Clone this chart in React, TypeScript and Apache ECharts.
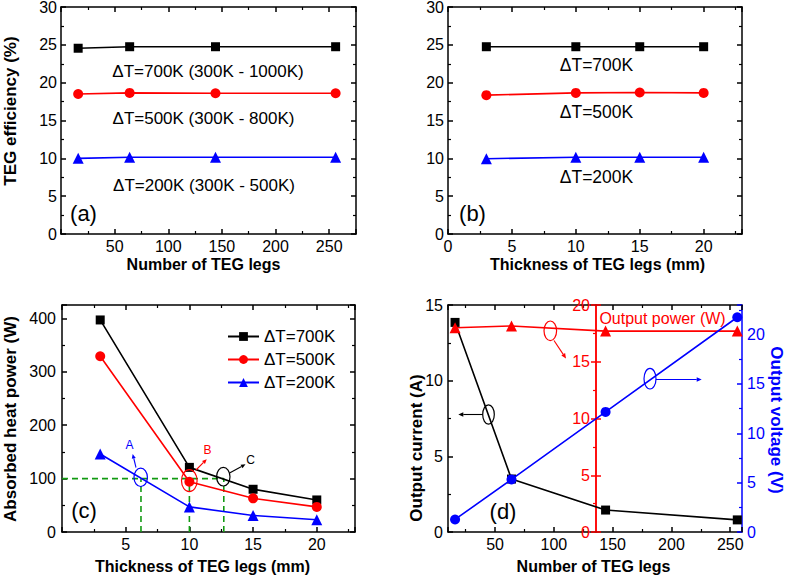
import React, { useEffect, useRef } from 'react';
import * as echarts from 'echarts';

const FONT = "'Liberation Sans', Arial, Helvetica, sans-serif";

// ---------- (a) efficiency vs number of legs ----------
const legsA = [16, 64, 144, 256];
const effA700 = [24.55, 24.75, 24.75, 24.75];
const effA500 = [18.5, 18.65, 18.6, 18.6];
const effA200 = [10.0, 10.15, 10.15, 10.15];

// ---------- (b) efficiency vs thickness ----------
const thickB = [3, 10, 15, 20];
const effB700 = [24.75, 24.75, 24.75, 24.75];
const effB500 = [18.35, 18.65, 18.7, 18.65];
const effB200 = [9.95, 10.15, 10.15, 10.15];

// ---------- (c) absorbed heat power vs thickness ----------
const thickC = [3, 10, 15, 20];
const heatC700 = [397, 121, 80, 60];
const heatC500 = [329, 94, 63, 47];
const heatC200 = [146, 47, 31, 23];
const guideLevel = 100;
const guideXs = [6.2, 10, 12.7];

// ---------- (d) outputs vs number of legs ----------
const legsD = [16, 64, 144, 256];
const currentD = [13.85, 3.5, 1.45, 0.8];
const powerD = [18.0, 18.15, 17.7, 17.7];
const voltageD = [1.27, 5.33, 12.17, 21.76];

const legendNames = ['ΔT=700K', 'ΔT=500K', 'ΔT=200K'];

const zip = (xs: number[], ys: number[]) => xs.map((x, i) => [x, ys[i]]);

function xAxisCfg(gridIndex: number, min: number, max: number, o: any = {}) {
  const mirror = !!o.mirror;
  return {
    type: 'value',
    gridIndex,
    min,
    max,
    position: mirror ? 'top' : 'bottom',
    interval: o.interval,
    splitNumber: o.splitNumber ?? 5,
    axisLine: { show: true, onZero: false, lineStyle: { color: '#000', width: 1.5 } },
    axisTick: { show: true, inside: true, length: 5, lineStyle: { color: '#000', width: 1.5 } },
    minorTick: { show: true, splitNumber: 2, length: 3, lineStyle: { color: '#000', width: 1.2 } },
    splitLine: { show: false },
    minorSplitLine: { show: false },
    axisLabel: {
      show: !mirror,
      margin: 4,
      fontSize: 16,
      fontFamily: FONT,
      color: '#000',
      showMinLabel: o.showMin ?? true,
      showMaxLabel: o.showMax ?? true,
    },
  };
}

function yAxisCfg(gridIndex: number, min: number, max: number, o: any = {}) {
  const color = o.color ?? '#000';
  return {
    type: 'value',
    gridIndex,
    min,
    max,
    position: o.position ?? 'left',
    offset: o.offset ?? 0,
    interval: o.interval,
    axisLine: { show: true, onZero: false, lineStyle: { color, width: 1.5 } },
    axisTick: { show: true, inside: o.inside ?? true, length: 5, lineStyle: { color, width: 1.5 } },
    minorTick: { show: o.minor ?? true, splitNumber: 2, length: 3, lineStyle: { color, width: 1.2 } },
    splitLine: { show: false },
    minorSplitLine: { show: false },
    axisLabel: {
      show: !!o.labels,
      margin: o.margin ?? 4,
      fontSize: 16,
      fontFamily: FONT,
      color,
      showMinLabel: true,
      showMaxLabel: o.showMax ?? true,
    },
  };
}

function lineSeries(name: string, xi: number, yi: number, data: number[][], color: string, symbol: string, size: number, z = 3) {
  return {
    type: 'line',
    name,
    xAxisIndex: xi,
    yAxisIndex: yi,
    data,
    symbol,
    symbolSize: size,
    showSymbol: true,
    z,
    silent: true,
    lineStyle: { color, width: 1.6 },
    itemStyle: { color, borderWidth: 0 },
    emphasis: { disabled: true },
  };
}

function guideSeries(xi: number, yi: number, data: number[][]) {
  return {
    type: 'line',
    xAxisIndex: xi,
    yAxisIndex: yi,
    data,
    symbol: 'none',
    z: 1,
    silent: true,
    lineStyle: { color: '#129a12', width: 1.6, type: [6, 4] },
    emphasis: { disabled: true },
  };
}

function txt(text: string, x: number, y: number, size: number, color = '#000', bold = false, rot = 0) {
  return {
    type: 'text',
    x,
    y,
    rotation: rot,
    silent: true,
    z: 100,
    style: {
      text,
      fill: color,
      fontSize: size,
      fontFamily: FONT,
      fontWeight: bold ? 'bold' : 'normal',
      align: 'center',
      verticalAlign: 'middle',
    },
  };
}

function ell(cx: number, cy: number, rx: number, ry: number, color: string) {
  return {
    type: 'ellipse',
    silent: true,
    z: 100,
    shape: { cx, cy, rx, ry },
    style: { fill: 'none', stroke: color, lineWidth: 1.2 },
  };
}

function arrow(x1: number, y1: number, x2: number, y2: number, color: string, head = 5) {
  const a = Math.atan2(y2 - y1, x2 - x1);
  const bx = x2 - head * Math.cos(a);
  const by = y2 - head * Math.sin(a);
  const w = head * 0.45;
  const px = -Math.sin(a) * w;
  const py = Math.cos(a) * w;
  return [
    {
      type: 'line',
      silent: true,
      z: 100,
      shape: { x1, y1, x2: bx, y2: by },
      style: { stroke: color, lineWidth: 1.1 },
    },
    {
      type: 'polygon',
      silent: true,
      z: 100,
      shape: { points: [[x2, y2], [bx + px, by + py], [bx - px, by - py]] },
      style: { fill: color },
    },
  ];
}

export default function App() {
  const ref = useRef<HTMLDivElement>(null);

  useEffect(() => {
    if (!ref.current) return;
    const chart = echarts.init(ref.current, undefined, { renderer: 'svg' });

    const grid = [
      { left: 61, top: 7, width: 295, height: 227 },
      { left: 448, top: 7, width: 294, height: 227 },
      { left: 62, top: 305, width: 293, height: 227 },
      { left: 448, top: 305, width: 294, height: 227 },
    ].map((g) => ({ ...g, containLabel: false, outerBoundsMode: 'none' }));

    const xAxis = [
      xAxisCfg(0, 0, 275, { interval: 50, showMin: false, showMax: false }),
      xAxisCfg(0, 0, 275, { interval: 50, mirror: true }),
      xAxisCfg(1, 0, 23, { interval: 5, showMax: false }),
      xAxisCfg(1, 0, 23, { interval: 5, mirror: true }),
      xAxisCfg(2, 0, 23, { interval: 5, showMin: false, showMax: false }),
      xAxisCfg(2, 0, 23, { interval: 5, mirror: true }),
      xAxisCfg(3, 10, 260, { splitNumber: 5, showMin: false, showMax: false }),
      xAxisCfg(3, 10, 260, { splitNumber: 5, mirror: true }),
    ];

    const yAxis = [
      yAxisCfg(0, 0, 30, { interval: 5, labels: true }),
      yAxisCfg(0, 0, 30, { interval: 5, position: 'right' }),
      yAxisCfg(1, 0, 30, { interval: 5, labels: true }),
      yAxisCfg(1, 0, 30, { interval: 5, position: 'right' }),
      yAxisCfg(2, 0, 425, { interval: 100, labels: true, showMax: false, margin: 6 }),
      yAxisCfg(2, 0, 425, { interval: 100, position: 'right' }),
      yAxisCfg(3, 0, 15, { interval: 5, labels: true, margin: 5 }),
      yAxisCfg(3, 0, 20, { interval: 5, labels: true, color: '#ff0000', offset: -148, inside: false, margin: 6 }),
      yAxisCfg(3, 0, 20, { interval: 5, color: '#ff0000', offset: -148, inside: true, minor: false }),
      yAxisCfg(3, 0, 23, { interval: 5, labels: true, color: '#0000ff', position: 'right', showMax: false, margin: 5 }),
    ];

    const series: any[] = [
      // (a)
      lineSeries('a700', 0, 0, zip(legsA, effA700), '#000', 'rect', 9),
      lineSeries('a500', 0, 0, zip(legsA, effA500), '#ff0000', 'circle', 10),
      lineSeries('a200', 0, 0, zip(legsA, effA200), '#0000ff', 'triangle', 11),
      // (b)
      lineSeries('b700', 2, 2, zip(thickB, effB700), '#000', 'rect', 9),
      lineSeries('b500', 2, 2, zip(thickB, effB500), '#ff0000', 'circle', 10),
      lineSeries('b200', 2, 2, zip(thickB, effB200), '#0000ff', 'triangle', 11),
      // (c) guides
      guideSeries(4, 4, [[0, guideLevel], [guideXs[2], guideLevel]]),
      ...guideXs.map((gx) => guideSeries(4, 4, [[gx, 0], [gx, guideLevel]])),
      // (c)
      lineSeries(legendNames[0], 4, 4, zip(thickC, heatC700), '#000', 'rect', 9),
      lineSeries(legendNames[1], 4, 4, zip(thickC, heatC500), '#ff0000', 'circle', 10),
      lineSeries(legendNames[2], 4, 4, zip(thickC, heatC200), '#0000ff', 'triangle', 11),
      // (d)
      lineSeries('current', 6, 6, zip(legsD, currentD), '#000', 'rect', 9),
      lineSeries('power', 6, 7, zip(legsD, powerD), '#ff0000', 'triangle', 11),
      lineSeries('voltage', 6, 9, zip(legsD, voltageD), '#0000ff', 'circle', 10, 4),
    ];

    const graphic: any[] = [
      // axis titles
      txt('Number of TEG legs', 203.5, 264.5, 16, '#000', true),
      txt('TEG efficiency (%)', 10, 111, 17, '#000', true, Math.PI / 2),
      txt('Thickness of TEG legs (mm)', 597.5, 264, 16, '#000', true),
      txt('Thickness of TEG legs (mm)', 202.5, 566, 16, '#000', true),
      txt('Absorbed heat power (W)', 10, 419, 17, '#000', true, Math.PI / 2),
      txt('Number of TEG legs', 593.5, 566.5, 16, '#000', true),
      txt('Output current (A)', 416.5, 448, 17, '#000', true, Math.PI / 2),
      txt('Output voltage (V)', 776.5, 420, 17, '#0000ff', true, -Math.PI / 2),
      // panel tags
      txt('(a)', 83.5, 213, 22),
      txt('(b)', 472.5, 213, 22),
      txt('(c)', 84, 510, 22),
      txt('(d)', 503, 511, 22),
      // (a) annotations
      txt('ΔT=700K (300K - 1000K)', 208, 71.5, 17),
      txt('ΔT=500K (300K - 800K)', 203.5, 118.5, 17),
      txt('ΔT=200K (300K - 500K)', 204, 185, 17),
      // (b) annotations
      txt('ΔT=700K', 596.5, 65, 17.5),
      txt('ΔT=500K', 596.5, 111.5, 17.5),
      txt('ΔT=200K', 596.5, 176.5, 17.5),
      // (c) annotations
      ell(140.7, 477.3, 6.7, 9.2, '#0000ff'),
      ell(189.3, 480.7, 7.8, 11, '#ff0000'),
      ell(223.3, 476.7, 6.7, 9.3, '#000'),
      ...arrow(136, 467.5, 132.7, 454, '#0000ff', 4.5),
      ...arrow(196, 470, 206.7, 459.3, '#ff0000', 4.5),
      ...arrow(230, 472.7, 245.5, 464.3, '#000', 4.5),
      txt('A', 129.5, 445, 12, '#0000ff'),
      txt('B', 207.5, 450, 12, '#ff0000'),
      txt('C', 250.5, 459.5, 12, '#000'),
      // (d) annotations
      txt('Output power (W)', 662.5, 318.5, 16, '#ff0000'),
      ell(488.5, 414.5, 5.8, 9.7, '#000'),
      ...arrow(482.7, 414.5, 458.3, 414.5, '#000', 5),
      ell(550.3, 330.8, 6.3, 9.8, '#ff0000'),
      ...arrow(554, 340.5, 566, 358.5, '#ff0000', 5),
      ell(650, 378.7, 6, 10.3, '#0000ff'),
      ...arrow(656, 379.5, 701.7, 379.5, '#0000ff', 5),
    ];

    chart.setOption({
      animation: false,
      backgroundColor: '#ffffff',
      textStyle: { fontFamily: FONT },
      grid,
      xAxis,
      yAxis,
      series,
      legend: {
        data: legendNames,
        orient: 'vertical',
        left: 222,
        top: 323,
        itemWidth: 31,
        itemHeight: 11,
        itemGap: 6,
        selectedMode: false,
        textStyle: { fontSize: 17, fontFamily: FONT, color: '#000' },
      },
      graphic,
    });

    return () => {
      chart.dispose();
    };
  }, []);

  return (
    <div
      ref={ref}
      style={{ position: 'fixed', left: 0, top: 0, width: 787, height: 578, background: '#fff' }}
    />
  );
}
